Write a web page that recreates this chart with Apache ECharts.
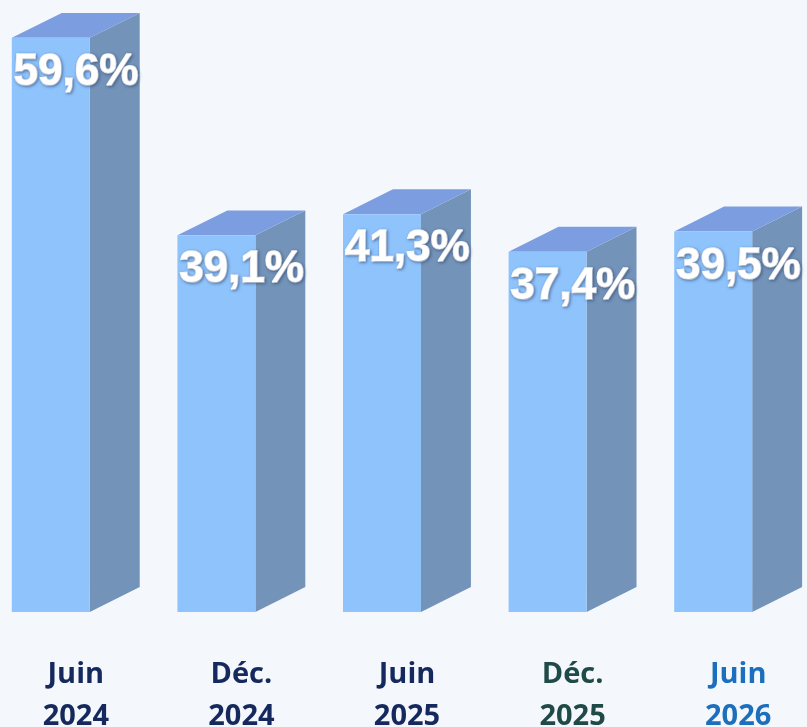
<!DOCTYPE html>
<html>
<head>
<meta charset="utf-8">
<style>
  html, body { margin: 0; padding: 0; background: #f4f8fc; }
  #chart { width: 807px; height: 727px; }
</style>
<script src="https://cdn.jsdelivr.net/npm/echarts@6/dist/echarts.min.js"></script>
</head>
<body>
<div id="chart"></div>
<script>
// data
var categories = ['Juin\n2024', 'Déc.\n2024', 'Juin\n2025', 'Déc.\n2025', 'Juin\n2026'];
var values = [59.6, 39.1, 41.3, 37.4, 39.5];

var labelColors = ['#15295e', '#15295e', '#15295e', '#1f4a48', '#1b6fbd'];

var chart = echarts.init(document.getElementById('chart'));

function fmt(v) {
  return v.toFixed(1).replace('.', ',') + '%';
}

function renderBox(params, api) {
  var idx = api.value(0);
  var base = api.coord([idx, 0]);
  var top = api.coord([idx, api.value(1)]);
  var band = api.size([1, 0])[0];
  var w = band * 0.471;
  var dx = w * 0.64, dy = dx / 2;
  var x0 = base[0] - w / 2, x1 = base[0] + w / 2;
  var yb = base[1], yt = top[1];
  return {
    type: 'group',
    children: [
      { // side
        type: 'polygon',
        shape: { points: [[x1, yt], [x1 + dx, yt - dy], [x1 + dx, yb - dy], [x1, yb]] },
        style: { fill: '#7393b9' }
      },
      { // top
        type: 'polygon',
        shape: { points: [[x0, yt], [x0 + dx, yt - dy], [x1 + dx, yt - dy], [x1, yt]] },
        style: { fill: '#7c9ee0' }
      },
      { // front
        type: 'rect',
        shape: { x: x0, y: yt, width: w, height: yb - yt },
        style: { fill: '#8fc3fc' }
      },
      {
        type: 'text',
        z2: 10,
        x: x0 + 2,
        y: yt + 35,
        scaleX: 1.0,
        style: {
          text: fmt(api.value(1)),
          x: 0,
          y: 0,
          verticalAlign: 'middle',
          align: 'left',
          fill: '#ffffff',
          font: 'bold 44px "Liberation Sans", "DejaVu Sans", sans-serif',
          stroke: '#ffffff',
          lineWidth: 1.5,
          textShadowColor: 'rgba(40,60,100,0.5)',
          textShadowBlur: 3,
          textShadowOffsetX: 1,
          textShadowOffsetY: 1
        }
      }
    ]
  };
}

chart.setOption({
  backgroundColor: '#f4f8fc',
  animation: false,
  grid: { left: -32, right: 11, top: 34, bottom: 115, outerBoundsMode: 'none', containLabel: false },
  xAxis: {
    type: 'category',
    data: categories.map(function (c, i) {
      return { value: c, textStyle: { color: labelColors[i] } };
    }),
    axisLine: { show: false },
    axisTick: { show: false },
    axisLabel: {
      interval: 0,
      margin: 42,
      fontFamily: 'Open Sans',
      fontWeight: 'bold',
      fontSize: 29,
      lineHeight: 42,
      padding: [0, 0, 0, 50]
    }
  },
  yAxis: {
    type: 'value',
    min: 0,
    max: 60,
    show: false
  },
  series: [{
    type: 'custom',
    renderItem: renderBox,
    data: values.map(function (v, i) { return [i, v]; })
  }]
});
</script>
</body>
</html>
